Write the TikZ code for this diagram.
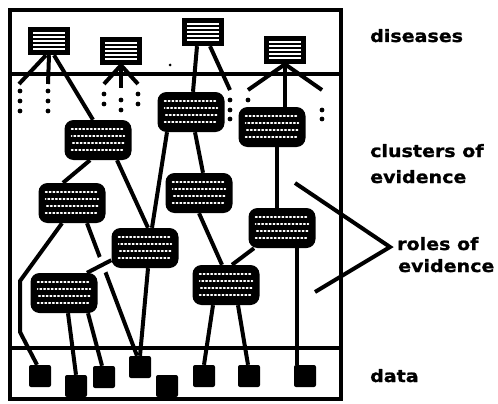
\documentclass[tikz,border=0pt]{standalone}
\usepackage{fontspec}
\newfontfamily\labelfont[FakeStretch=1.12,BoldFeatures={FakeBold=1.2}]{DejaVu Sans}
\usetikzlibrary{backgrounds}

\begin{document}
\begin{tikzpicture}[x=1pt,y=-1pt,line cap=round,line join=round,
    link/.style={line width=4pt},
    disease/.style={rectangle,fill=black,minimum width=42pt,minimum height=28pt,inner sep=0pt,
      path picture={\foreach \k in {0,...,4}
        \draw[white,line width=1.1pt,line cap=butt] ([xshift=5pt,yshift={-6-4*\k}]path picture bounding box.north west) -- ([xshift=-5pt,yshift={-6-4*\k}]path picture bounding box.north east);}},
    cluster/.style={rectangle,fill=black,rounded corners=9pt,minimum width=67pt,minimum height=40pt,inner sep=0pt,
      path picture={\foreach \k in {0,...,3}
        \draw[white,line width=1.4pt,dash pattern=on 1.6pt off 2.2pt,dash phase={1.3*\k}] ([xshift=7pt,yshift={-9-7*\k}]path picture bounding box.north west) -- ([xshift=-7pt,yshift={-9-7*\k}]path picture bounding box.north east);}},
    datum/.style={rectangle,fill=black,minimum size=22pt,rounded corners=2pt,inner sep=0pt},
    lbl/.style={font=\labelfont\bfseries\fontsize{17}{20}\selectfont,anchor=base west,inner sep=0pt}]
  \useasboundingbox (0,0) rectangle (498,404);

  % diseases
  \node[disease] (dis1) at (49,41) {};
  \node[disease] (dis2) at (121,51) {};
  \node[disease] (dis3) at (203,32) {};
  \node[disease] (dis4) at (285,50) {};

  % clusters of evidence
  \node[cluster] (c1) at (98,140) {};
  \node[cluster] (c2) at (191,112) {};
  \node[cluster] (c3) at (272,127) {};
  \node[cluster] (c4) at (72,203) {};
  \node[cluster] (c5) at (199,193) {};
  \node[cluster] (c6) at (145,248) {};
  \node[cluster] (c7) at (282,228) {};
  \node[cluster] (c8) at (64,293) {};
  \node[cluster] (c9) at (226,285) {};

  % data
  \node[datum] (d1) at (40,376) {};
  \node[datum] (d2) at (76,386) {};
  \node[datum] (d3) at (104,377) {};
  \node[datum] (d4) at (140,367) {};
  \node[datum] (d5) at (167,386) {};
  \node[datum] (d6) at (204,376) {};
  \node[datum] (d7) at (249,376) {};
  \node[datum] (d8) at (305,376) {};

  % free ends
  \coordinate (e1a) at (19,84);
  \coordinate (e1b) at (48,84);
  \coordinate (e2a) at (104,84);
  \coordinate (e2b) at (121,88);
  \coordinate (e2c) at (138,84);
  \coordinate (e3) at (230,90);
  \coordinate (e4a) at (248,90);
  \coordinate (e4b) at (322,90);
  \coordinate (r1) at (295,183);
  \coordinate (r2) at (315,292);
  \coordinate (rtip) at (390,247);

  \begin{scope}[on background layer]
    \draw[line width=4pt] (10,10) rectangle (341,399);
    \draw[line width=4pt] (10,74) -- (341,74);
    \draw[line width=4pt] (10,348) -- (341,348);

    \draw[link] ([xshift=-3pt]dis1.south) -- (e1a);
    \draw[link] (dis1.south) -- (e1b);
    \draw[link] ([xshift=5pt]dis1.south) -- ([xshift=-5pt]c1.north);
    \draw[link] (dis2.south) -- (e2a);
    \draw[link] (dis2.south) -- (e2b);
    \draw[link] (dis2.south) -- (e2c);
    \draw[link] ([xshift=-6pt]dis3.south) -- ([xshift=2pt]c2.north);
    \draw[link] ([xshift=7pt]dis3.south) -- (e3);
    \draw[link] (dis4.south) -- (e4a);
    \draw[link] (dis4.south) -- ([xshift=13pt]c3.north);
    \draw[link] (dis4.south) -- (e4b);

    \draw[link] ([xshift=-8pt]c1.south) -- ([xshift=-9pt]c4.north);
    \draw[link] ([xshift=19pt]c1.south) -- ([xshift=3pt]c6.north);
    \draw[link] ([xshift=-24pt]c2.south) -- ([xshift=7pt]c6.north);
    \draw[link] ([xshift=4pt]c2.south) -- ([xshift=4pt]c5.north);
    \draw[link] (c5.south) -- ([xshift=-4pt]c9.north);
    \draw[link] ([xshift=5pt]c3.south) -- ([xshift=-5pt]c7.north);
    \draw[link] ([xshift=-28pt]c7.south) -- ([xshift=6pt]c9.north);
    \draw[link] ([xshift=15pt]c7.south) -- ([xshift=-8pt]d8.north);
    \draw[link] ([xshift=-10pt]c4.south) -- (20,281) -- (20,332) -- ([xshift=-3pt]d1.north);
    \draw[link] ([xshift=15pt]c4.south) -- ([xshift=-3pt]d4.north);
    \draw[link,preaction={draw=white,line width=16pt,line cap=butt}] ([yshift=8pt]c6.south west) -- ([xshift=23pt]c8.north);
    \draw[link] ([xshift=3pt]c6.south) -- (d4.north);
    \draw[link] ([xshift=4pt]c8.south) -- (d2.north);
    \draw[link] ([xshift=24pt]c8.south) -- ([xshift=-2pt]d3.north);
    \draw[link] ([xshift=-13pt]c9.south) -- (d6.north);
    \draw[link] ([xshift=12pt]c9.south) -- ([xshift=-1pt]d7.north);

    \draw[link] (r1) -- (rtip) -- (r2);
  \end{scope}

  % dotted continuations
  \foreach \px/\py in {20/91,20/101,20/111,48/91,48/101,48/111,
      104/94,104/104,121/100,121/110,138/94,138/104,
      230/100,230/110,230/119,248/100,322/110,322/119}
    \fill (\px,\py) circle (2.4);
  \fill (170,65) circle (1.5);

  % labels
  \node[lbl] (tdis) at (370,42) {diseases};
  \node[lbl] (tclu) at (370,157) {clusters of};
  \node[lbl] (tclu2) at (370,183) {evidence};
  \node[lbl] (trol) at (397,250) {roles of};
  \node[lbl] (trol2) at (398,272) {evidence};
  \node[lbl] (tdat) at (370,382) {data};
\end{tikzpicture}
\end{document}
